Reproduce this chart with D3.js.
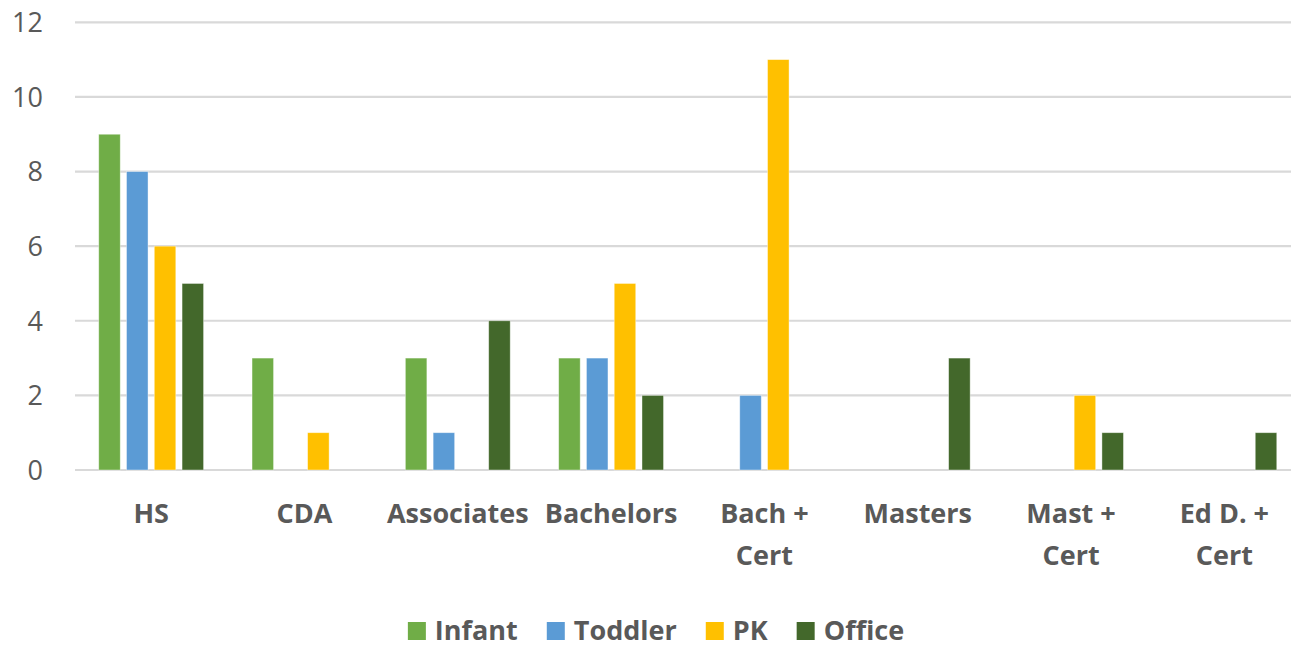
<!DOCTYPE html>
<html>
<head>
<meta charset="utf-8">
<script src="https://cdn.jsdelivr.net/npm/d3@7"></script>
<style>
  html, body { margin: 0; padding: 0; background: #fff; }
  svg { display: block; }
  text { font-family: "Open Sans", "Liberation Sans", sans-serif; }
</style>
</head>
<body>
<svg id="chart" width="1291" height="648"></svg>
<script>
const categories = ["HS", "CDA", "Associates", "Bachelors", "Bach + Cert", "Masters", "Mast + Cert", "Ed D. + Cert"];
const seriesNames = ["Infant", "Toddler", "PK", "Office"];
const infant  = [9, 3, 3, 3, 0, 0, 0, 0];
const toddler = [8, 0, 1, 3, 2, 0, 0, 0];
const pk      = [6, 1, 0, 5, 11, 0, 2, 0];
const office  = [5, 0, 4, 2, 0, 3, 1, 1];
const yTicks  = [0, 2, 4, 6, 8, 10, 12];
const colors  = ["#70ad47", "#5b9bd5", "#ffc000", "#43682b"];

const seriesValues = [infant, toddler, pk, office];
const svg = d3.select("#chart");

const x = d3.scaleBand().domain(categories).range([74.5, 1301]).paddingInner(0).paddingOuter(0);
const y = d3.scaleLinear().domain([0, 12]).range([470, 22.3]);
const bw = x.bandwidth();
const groupPad = bw * 0.158;
const xs = d3.scaleBand().domain(seriesNames).range([groupPad, bw - groupPad]).paddingInner(0.225).paddingOuter(0);

// gridlines
const grid = svg.append("g");
grid.selectAll("line").data(yTicks).join("line")
  .attr("x1", 75).attr("x2", 1301)
  .attr("y1", d => y(d)).attr("y2", d => y(d))
  .attr("stroke", "#d9d9d9").attr("stroke-width", 2.2);

// y axis labels
const yAxis = d3.axisLeft(y).tickValues(yTicks).tickSize(0).tickPadding(0);
const yg = svg.append("g").attr("transform", "translate(43,0)").call(yAxis);
yg.select(".domain").remove();
yg.selectAll("text")
  .attr("font-family", "'Open Sans', sans-serif")
  .attr("font-size", 27).attr("fill", "#595959").attr("dy", "0.35em");

// bars
const data = [];
categories.forEach((c, i) => seriesNames.forEach((s, j) => {
  data.push({ cat: c, series: s, value: seriesValues[j][i], color: colors[j] });
}));
svg.append("g").selectAll("rect").data(data.filter(d => d.value > 0)).join("rect")
  .attr("x", d => x(d.cat) + xs(d.series))
  .attr("width", xs.bandwidth())
  .attr("y", d => y(d.value))
  .attr("height", d => y(0) - y(d.value))
  .attr("fill", d => d.color)
  .attr("stroke", "#ffffff").attr("stroke-opacity", 0.5).attr("stroke-width", 0.8);

// category labels
const xAxis = d3.axisBottom(x).tickSize(0).tickPadding(0);
const xg = svg.append("g").attr("transform", "translate(0,0)").call(xAxis);
xg.select(".domain").remove();
xg.selectAll(".tick text").each(function(d) {
  const t = d3.select(this);
  t.text(null).attr("y", 0).attr("dy", null)
    .attr("font-family", "'Open Sans', sans-serif")
    .attr("font-size", 27).attr("font-weight", "bold").attr("fill", "#595959")
    .attr("text-anchor", "middle");
  const idx = d.indexOf("+ ");
  const lines = idx >= 0 ? [d.slice(0, idx + 1), d.slice(idx + 2)] : [d];
  lines.forEach((ln, k) => {
    t.append("tspan").attr("x", 0).attr("y", 523 + k * 42).text(ln);
  });
});

// legend
const legend = svg.append("g");
const items = legend.selectAll("g").data(seriesNames).join("g");
items.append("rect").attr("width", 18).attr("height", 18).attr("y", 622)
  .attr("fill", (d, i) => colors[i]);
items.append("text").attr("x", 27).attr("y", 640)
  .attr("font-family", "'Open Sans', sans-serif")
  .attr("font-size", 27).attr("font-weight", "bold").attr("fill", "#595959")
  .text(d => d);
let widths = [];
items.each(function() { widths.push(27 + d3.select(this).select("text").node().getComputedTextLength()); });
const gap = 29;
const total = d3.sum(widths) + gap * (widths.length - 1);
let cx = 656 - total / 2;
items.each(function(d, i) {
  d3.select(this).attr("transform", `translate(${cx},0)`);
  cx += widths[i] + gap;
});
</script>
</body>
</html>
